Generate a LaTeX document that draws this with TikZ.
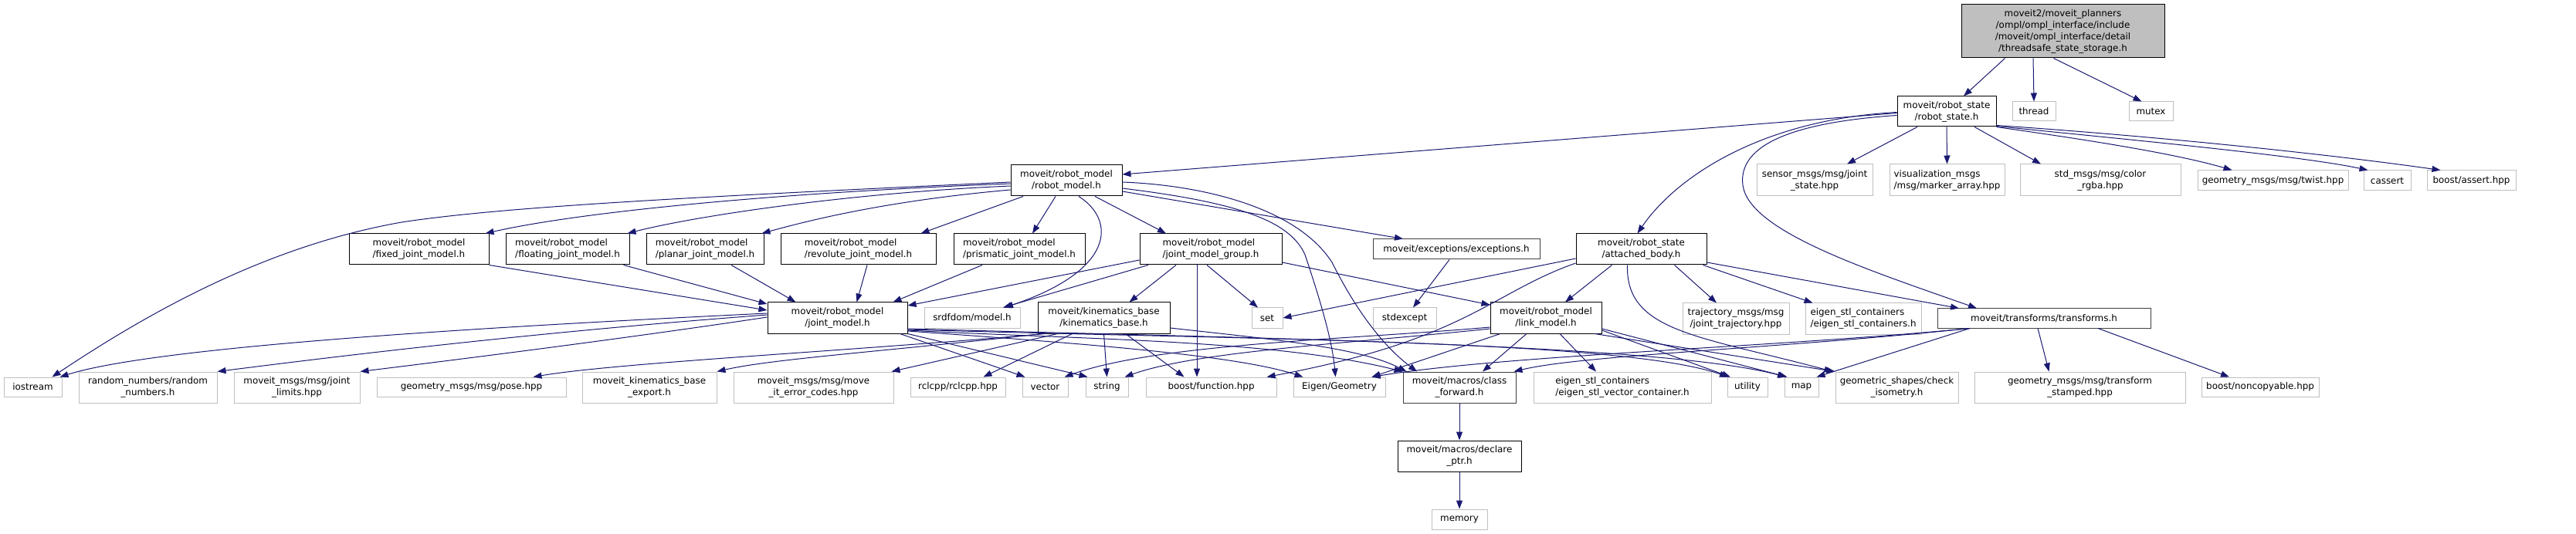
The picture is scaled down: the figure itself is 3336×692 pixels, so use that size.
\documentclass[tikz,border=0pt]{standalone}
\usepackage{fontspec}
\newfontfamily\dfont{DejaVu Sans}
\usetikzlibrary{arrows.meta}
\definecolor{edgec}{HTML}{191970}
\definecolor{extc}{HTML}{BFBFBF}
\definecolor{docgc}{HTML}{404040}
\tikzset{
 box/.style={rectangle, inner sep=0pt, font={\dfont\fontsize{11.9}{15}\selectfont}, line width=1pt, align=center},
 doc/.style={box, draw=black},
 docg/.style={box, draw=docgc},
 ext/.style={box, draw=extc},
 rootn/.style={box, draw=black, fill=extc},
 lal/.style={align=left},
 wh/.style 2 args={minimum width=#1pt, minimum height=#2pt},
 e/.style={draw=edgec, line width=1pt, -{Triangle[length=11pt,width=8pt]}},
}
\begin{document}
\begin{tikzpicture}[x=1pt,y=-1pt]
\useasboundingbox (0,0) rectangle (3336,692);
% ---- nodes
\node[rootn, wh={263}{69}] (root) at (2671.5,40.5) {moveit2/moveit\_planners\\/ompl/ompl\_interface/include\\/moveit/ompl\_interface/detail\\/threadsafe\_state\_storage.h};
\node[doc, wh={128}{39}] (rstate) at (2521,144.5) {moveit/robot\_state\\/robot\_state.h};
\node[ext, wh={56}{25}] (thread) at (2634,144.5) {thread};
\node[ext, wh={57}{25}] (mutex) at (2785.5,144.5) {mutex};
\node[ext, wh={150}{41}] (sensor) at (2350,233.5) {sensor\_msgs/msg/joint\\\_state.hpp};
\node[ext, lal, wh={149}{41}] (vis) at (2521.5,233.5) {visualization\_msgs\\/msg/marker\_array.hpp};
\node[ext, wh={208}{41}] (color) at (2720,233.5) {std\_msgs/msg/color\\\_rgba.hpp};
\node[ext, wh={195}{26}] (twist) at (2943.5,234) {geometry\_msgs/msg/twist.hpp};
\node[ext, wh={61}{26}] (cassert) at (3091.5,234) {cassert};
\node[ext, wh={115}{26}] (bassert) at (3200.5,234) {boost/assert.hpp};
\node[doc, wh={144}{40}] (rmodel) at (1381,234) {moveit/robot\_model\\/robot\_model.h};
\node[doc, lal, wh={181}{40}] (fixed) at (542.5,323) {moveit/robot\_model\\/fixed\_joint\_model.h};
\node[doc, lal, wh={160}{40}] (floating) at (735,323) {moveit/robot\_model\\/floating\_joint\_model.h};
\node[doc, lal, wh={152}{40}] (planar) at (913,323) {moveit/robot\_model\\/planar\_joint\_model.h};
\node[doc, lal, wh={201}{40}] (revolute) at (1111.5,323) {moveit/robot\_model\\/revolute\_joint\_model.h};
\node[doc, lal, wh={170}{40}] (prismatic) at (1320,323) {moveit/robot\_model\\/prismatic\_joint\_model.h};
\node[doc, lal, wh={184}{40}] (jmg) at (1568,323) {moveit/robot\_model\\/joint\_model\_group.h};
\node[docg, wh={216}{26}] (exceptions) at (1886,323) {moveit/exceptions/exceptions.h};
\node[doc, wh={169}{40}] (attached) at (2125.5,323) {moveit/robot\_state\\/attached\_body.h};
\node[doc, wh={181}{40}] (jmodel) at (1084.5,412) {moveit/robot\_model\\/joint\_model.h};
\node[ext, wh={124}{26}] (srdf) at (1259,412) {srdfdom/model.h};
\node[doc, wh={171}{40}] (kbase) at (1429.5,412) {moveit/kinematics\_base\\/kinematics\_base.h};
\node[ext, wh={40}{26}] (set) at (1641,412) {set};
\node[ext, wh={82}{26}] (stdexcept) at (1819,412) {stdexcept};
\node[doc, wh={144}{40}] (lmodel) at (2002,412) {moveit/robot\_model\\/link\_model.h};
\node[ext, wh={138}{40}] (traj) at (2248,413) {trajectory\_msgs/msg\\/joint\_trajectory.hpp};
\node[ext, lal, wh={150}{40}] (eigcont) at (2413,413) {eigen\_stl\_containers\\/eigen\_stl\_containers.h};
\node[docg, wh={276}{25}] (transforms) at (2647,412.5) {moveit/transforms/transforms.h};
\node[ext, wh={75}{25}] (iostream) at (42.5,501.5) {iostream};
\node[ext, wh={179}{40}] (random) at (191.5,502) {random\_numbers/random\\\_numbers.h};
\node[ext, wh={163}{40}] (jlimits) at (384.5,502) {moveit\_msgs/msg/joint\\\_limits.hpp};
\node[ext, wh={245}{25}] (pose) at (610.5,501.5) {geometry\_msgs/msg/pose.hpp};
\node[ext, wh={174}{40}] (export) at (841,502) {moveit\_kinematics\_base\\\_export.h};
\node[ext, wh={207}{40}] (errcodes) at (1053.5,502) {moveit\_msgs/msg/move\\\_it\_error\_codes.hpp};
\node[ext, wh={123}{25}] (rclcpp) at (1240.5,501.5) {rclcpp/rclcpp.hpp};
\node[ext, wh={59}{25}] (vector) at (1353.5,501.5) {vector};
\node[ext, wh={55}{25}] (string) at (1433.5,501.5) {string};
\node[ext, wh={169}{25}] (bfunc) at (1568.5,501.5) {boost/function.hpp};
\node[ext, wh={119}{25}] (eigen) at (1734.5,501.5) {Eigen/Geometry};
\node[docg, wh={146}{40}] (cfwd) at (1890,502) {moveit/macros/class\\\_forward.h};
\node[ext, lal, wh={230}{40}] (eigvec) at (2101,502) {eigen\_stl\_containers\\/eigen\_stl\_vector\_container.h};
\node[ext, wh={52}{25}] (utility) at (2263,501.5) {utility};
\node[ext, wh={44}{25}] (map) at (2333,501.5) {map};
\node[ext, wh={159}{40}] (geoshape) at (2456.5,502) {geometric\_shapes/check\\\_isometry.h};
\node[ext, wh={273}{40}] (tstamped) at (2693.5,502) {geometry\_msgs/msg/transform\\\_stamped.hpp};
\node[ext, wh={152}{25}] (noncopy) at (2927,501.5) {boost/noncopyable.hpp};
\node[doc, wh={160}{40}] (declare) at (1890,591) {moveit/macros/declare\\\_ptr.h};
\node[ext, wh={72}{26}] (memory) at (1890,673) {memory};
% ---- edges: root
\draw[e] ([xshift=-75pt]root.south) -- ([xshift=22pt]rstate.north);
\draw[e] ([xshift=-38.5pt]root.south) -- (thread.north);
\draw[e] ([xshift=-12pt]root.south) -- ([xshift=-12pt]mutex.north);
% robot_state
\draw[e] ([xshift=-38pt]rstate.south) -- ([xshift=42pt]sensor.north);
\draw[e] (rstate.south) -- (vis.north);
\draw[e] ([xshift=36pt]rstate.south) -- ([xshift=-77pt]color.north);
\draw[e] (rstate.south east) .. controls (2665,176) and (2807,196) .. ([xshift=-53pt]twist.north);
\draw[e] ([yshift=1pt]rstate.south east) .. controls (2735,179) and (2976,201) .. ([xshift=-25pt]cassert.north);
\draw[e] ([yshift=2pt]rstate.south east) .. controls (2785,176) and (3010,199) .. ([xshift=-40pt]bassert.north);
\draw[e] ([yshift=-2pt]rstate.west) -- ([yshift=8pt]rmodel.east);
\draw[e] ([yshift=-1pt]rstate.west) .. controls (2280,155) and (2170,230) .. ([xshift=-5pt]attached.north);
\draw[e] ([yshift=-5pt]rstate.west) .. controls (2330,158) and (2250,185) .. (2257,240) .. controls (2265,300) and (2420,350) .. ([xshift=-87pt]transforms.north);
% robot_model
\draw[e] ([yshift=-2pt]rmodel.west) .. controls (900,255) and (650,268) .. (520,288) .. controls (350,318) and (200,400) .. ([xshift=25pt]iostream.north);
\draw[e] ([yshift=-4pt]rmodel.west) .. controls (1000,250) and (750,275) .. ([xshift=-5pt]fixed.north east);
\draw[e] ([yshift=-7pt]rmodel.west) .. controls (1100,250) and (900,280) .. ([xshift=-3pt]floating.north east);
\draw[e] ([yshift=-12pt]rmodel.west) .. controls (1150,260) and (1050,285) .. ([xshift=-3pt]planar.north east);
\draw[e] ([xshift=-56pt]rmodel.south) -- ([xshift=81pt]revolute.north);
\draw[e] ([xshift=-14pt]rmodel.south) -- ([xshift=17pt]prismatic.north);
\draw[e] ([xshift=16pt]rmodel.south) .. controls (1445,285) and (1445,350) .. ([xshift=42pt]srdf.north);
\draw[e] ([xshift=37pt]rmodel.south) -- ([xshift=-58pt]jmg.north);
\draw[e] ([yshift=-14pt]rmodel.east) -- ([xshift=-69pt]exceptions.north);
\draw[e] ([yshift=-10pt]rmodel.east) .. controls (1600,262) and (1670,285) .. (1690,330) .. controls (1710,390) and (1725,440) .. ([xshift=-5pt]eigen.north);
\draw[e] ([yshift=-2pt]rmodel.east) .. controls (1560,240) and (1680,270) .. (1725,340) .. controls (1745,380) and (1780,440) .. ([xshift=-55pt]cfwd.north);
% joint types
\draw[e] (fixed.south east) -- ([yshift=10pt]jmodel.west);
\draw[e] ([xshift=-8pt]floating.south east) -- ([yshift=18pt]jmodel.west);
\draw[e] ([xshift=34pt]planar.south) -- ([xshift=-54pt]jmodel.north);
\draw[e] ([xshift=11.5pt]revolute.south) -- ([xshift=25pt]jmodel.north);
\draw[e] ([xshift=-48pt]prismatic.south) -- ([xshift=72pt]jmodel.north);
% joint_model_group
\draw[e] ([yshift=-14pt]jmg.west) -- ([yshift=16pt]jmodel.east);
\draw[e] ([xshift=-81pt]jmg.south) -- ([xshift=40pt]srdf.north);
\draw[e] ([xshift=-45pt]jmg.south) -- ([xshift=33pt]kbase.north);
\draw[e] ([xshift=-18pt]jmg.south) -- ([xshift=-18.5pt]bfunc.north);
\draw[e] ([xshift=-5pt]jmg.south) -- ([xshift=-12pt]set.north);
\draw[e] ([yshift=-17pt]jmg.east) -- ([yshift=17pt]lmodel.west);
% exceptions
\draw[e] ([xshift=-9pt]exceptions.south) -- ([xshift=11pt]stdexcept.north);
% attached_body
\draw[e] ([yshift=-12pt]attached.west) -- (set.east);
\draw[e] ([yshift=-18pt]attached.west) .. controls (1930,380) and (1900,440) .. ([xshift=-13pt]bfunc.north east);
\draw[e] ([xshift=-38pt]attached.south) -- ([xshift=25pt]lmodel.north);
\draw[e] ([xshift=43pt]attached.south) -- ([xshift=-25pt]traj.north);
\draw[e] ([xshift=-5pt]attached.south east) -- ([xshift=10pt]eigcont.north west);
\draw[e] ([yshift=-17pt]attached.east) -- ([xshift=-110pt]transforms.north);
\draw[e] ([xshift=-18pt]attached.south) .. controls (2105,430) and (2200,435) .. ([xshift=-3pt]geoshape.north west);
% joint_model
\draw[e] ([yshift=6pt]jmodel.west) .. controls (600,425) and (200,450) .. ([xshift=-3pt]iostream.north east);
\draw[e] ([yshift=4pt]jmodel.west) .. controls (700,430) and (450,460) .. (random.north east);
\draw[e] ([yshift=1pt]jmodel.west) .. controls (800,440) and (600,465) .. (jlimits.north east);
\draw[e] ([xshift=-10pt]jmodel.south east) -- ([xshift=-26pt]vector.north);
\draw[e] (jmodel.south east) -- ([xshift=-25pt]string.north);
\draw[e] ([yshift=-17pt]jmodel.east) .. controls (1400,445) and (1600,460) .. ([xshift=-47pt]eigen.north);
\draw[e] ([yshift=-16pt]jmodel.east) .. controls (1400,440) and (1650,440) .. (cfwd.north west);
\draw[e] ([yshift=-15pt]jmodel.east) .. controls (1600,440) and (2100,440) .. ([xshift=-25pt]utility.north);
\draw[e] ([yshift=-14pt]jmodel.east) .. controls (1600,438) and (2150,445) .. ([xshift=-20pt]map.north);
% kinematics_base
\draw[e] ([xshift=-76pt]kbase.south) .. controls (1100,455) and (800,470) .. ([xshift=80pt]pose.north);
\draw[e] ([xshift=-80pt]kbase.south) .. controls (1150,455) and (1000,465) .. (export.north east);
\draw[e] ([xshift=-60pt]kbase.south) -- ([xshift=-3pt]errcodes.north east);
\draw[e] ([xshift=-41pt]kbase.south) -- ([xshift=33pt]rclcpp.north);
\draw[e] (kbase.south) -- (string.north);
\draw[e] ([xshift=28pt]kbase.south) -- ([xshift=-35pt]bfunc.north);
\draw[e] ([yshift=-13pt]kbase.east) .. controls (1650,440) and (1760,450) .. ([xshift=5pt]cfwd.north west);
% link_model
\draw[e] ([yshift=-12pt]lmodel.west) .. controls (1750,440) and (1500,445) .. ([xshift=-5pt]vector.north east);
\draw[e] ([yshift=-14pt]lmodel.west) .. controls (1750,445) and (1550,455) .. ([xshift=-5pt]string.north east);
\draw[e] ([xshift=-59pt]lmodel.south) -- ([xshift=42pt]eigen.north);
\draw[e] ([xshift=-25pt]lmodel.south) -- ([xshift=30pt]cfwd.north);
\draw[e] ([xshift=18pt]lmodel.south) -- ([xshift=-34pt]eigvec.north);
\draw[e] ([yshift=-16pt]lmodel.east) -- ([xshift=-22pt]utility.north);
\draw[e] ([yshift=-14pt]lmodel.east) -- ([xshift=4pt]map.north west);
\draw[e] ([xshift=63pt]lmodel.south) -- (geoshape.north west);
% transforms
\draw[e] ([xshift=-96pt]transforms.south) .. controls (2300,450) and (1950,460) .. ([xshift=42pt]eigen.north);
\draw[e] ([xshift=-96pt]transforms.south) .. controls (2300,452) and (2050,460) .. ([xshift=-3pt]cfwd.north east);
\draw[e] ([xshift=-96pt]transforms.south) -- ([xshift=-3pt]map.north east);
\draw[e] ([xshift=-8pt]transforms.south) -- ([xshift=-40pt]tstamped.north);
\draw[e] ([xshift=70pt]transforms.south) -- ([xshift=-40pt]noncopy.north);
% macros
\draw[e] (cfwd.south) -- (declare.north);
\draw[e] (declare.south) -- (memory.north);
\end{tikzpicture}
\end{document}
